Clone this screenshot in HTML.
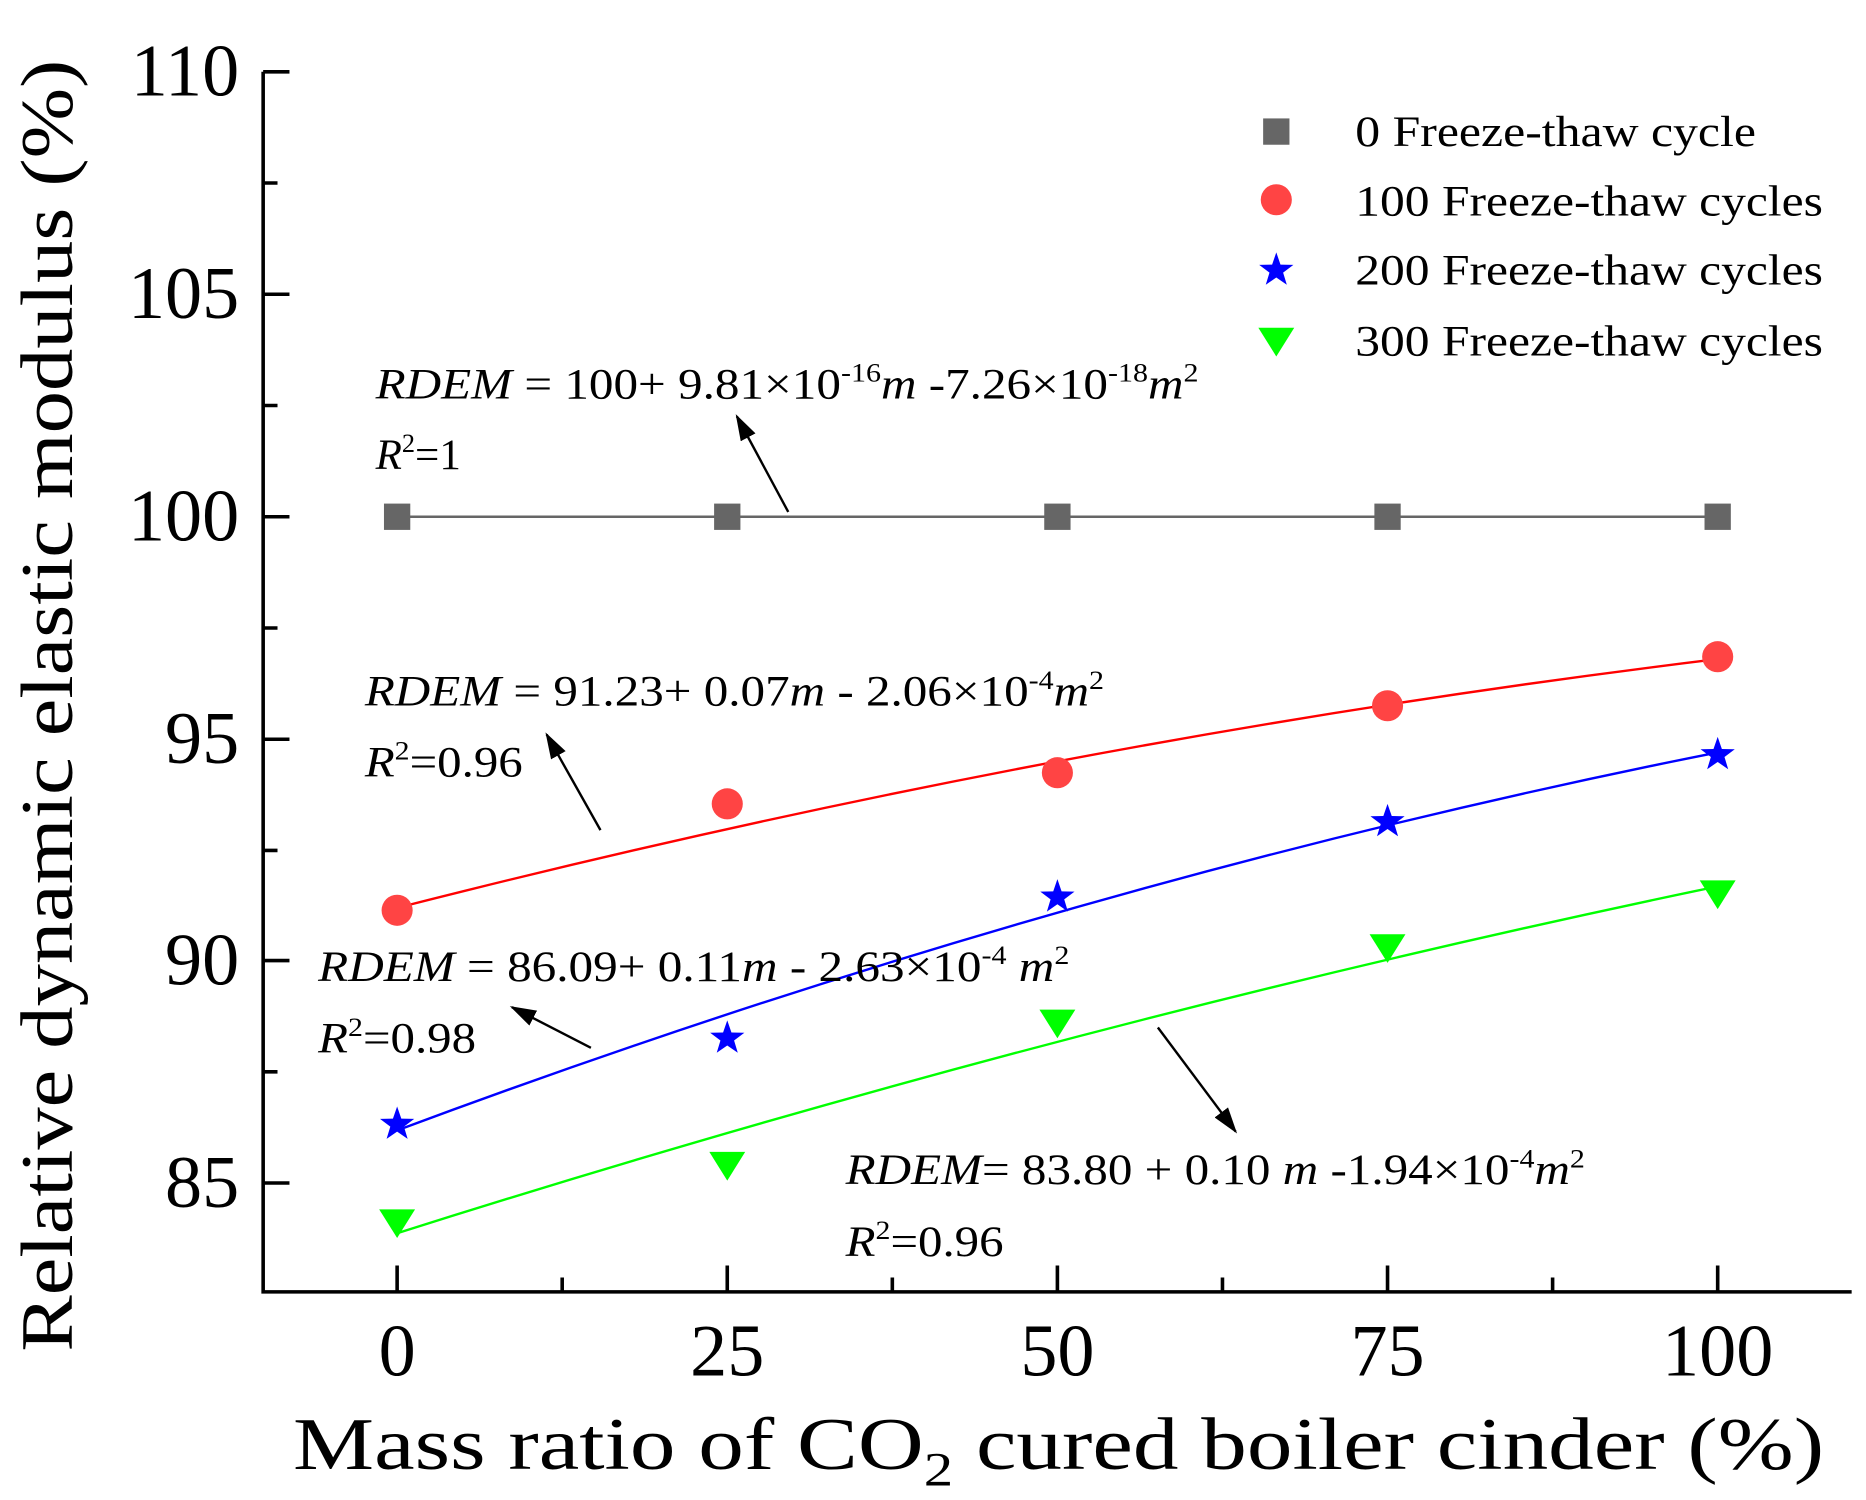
<!DOCTYPE html>
<html><head><meta charset="utf-8"><style>html,body{margin:0;padding:0;background:#fff}svg{display:block}</style></head>
<body>
<svg width="1866" height="1500" viewBox="0 0 1560 1254" preserveAspectRatio="none" xmlns="http://www.w3.org/2000/svg" font-family="'Liberation Serif', serif">
<defs><marker id="a2" markerWidth="22" markerHeight="14" refX="20" refY="7" orient="auto" markerUnits="userSpaceOnUse"><path d="M0,0 L22,7 L0,14 z" fill="#000"/></marker></defs>
<rect width="1560" height="1254" fill="#fff"/>
<g stroke="#000" stroke-width="3" fill="none">
<path d="M220,60 V1080 H1548"/>
<path d="M220,60 H242 M220,246 H242 M220,432 H242 M220,618 H242 M220,803 H242 M220,989 H242"/>
<path d="M220,153 H232 M220,339 H232 M220,525 H232 M220,711 H232 M220,896 H232"/>
<path d="M332,1080 V1058 M608,1080 V1058 M884,1080 V1058 M1160,1080 V1058 M1436,1080 V1058"/>
<path d="M470,1080 V1068 M746,1080 V1068 M1022,1080 V1068 M1298,1080 V1068"/>
</g>
<g font-size="62" text-anchor="end" fill="#000">
<text x="200" y="80">110</text><text x="200" y="266">105</text><text x="200" y="452">100</text>
<text x="200" y="638">95</text><text x="200" y="823">90</text><text x="200" y="1009">85</text>
</g>
<g font-size="62" text-anchor="middle" fill="#000">
<text x="332" y="1150">0</text><text x="608" y="1150">25</text><text x="884" y="1150">50</text><text x="1160" y="1150">75</text><text x="1436" y="1150">100</text>
</g>
<text x="885" y="1228" font-size="62" text-anchor="middle" textLength="1280" lengthAdjust="spacingAndGlyphs">Mass ratio of CO<tspan font-size="40" dy="14">2</tspan><tspan dy="-14"> cured boiler cinder (%)</tspan></text>
<text transform="translate(60,590) rotate(-90)" font-size="62" text-anchor="middle" textLength="1080" lengthAdjust="spacingAndGlyphs">Relative dynamic elastic modulus (%)</text>
<line x1="332" y1="432" x2="1436" y2="432" stroke="#666" stroke-width="2"/>
<path d="M332,759 Q884,618 1436,551" stroke="#f00" stroke-width="2" fill="none"/>
<path d="M332,945 Q884,739 1436,629" stroke="#00f" stroke-width="2" fill="none"/>
<path d="M332,1031 Q884,856 1436,741" stroke="#0f0" stroke-width="2" fill="none"/>
<g fill="#666"><rect x="321" y="421" width="22" height="22"/><rect x="597" y="421" width="22" height="22"/><rect x="873" y="421" width="22" height="22"/><rect x="1149" y="421" width="22" height="22"/><rect x="1425" y="421" width="22" height="22"/>
<rect x="1056" y="99" width="22" height="22"/></g>
<g fill="#f44"><circle cx="332" cy="761" r="13"/><circle cx="608" cy="672" r="13"/><circle cx="884" cy="646" r="13"/><circle cx="1160" cy="590" r="13"/><circle cx="1436" cy="549" r="13"/><circle cx="1067" cy="167" r="13"/></g>
<g fill="#00f">
<path d="M0,-15 L3.5,-4.8 L14.3,-4.6 L5.7,1.9 L8.8,12.1 L0,6 L-8.8,12.1 L-5.7,1.9 L-14.3,-4.6 L-3.5,-4.8 z" transform="translate(332,940)"/>
<path d="M0,-15 L3.5,-4.8 L14.3,-4.6 L5.7,1.9 L8.8,12.1 L0,6 L-8.8,12.1 L-5.7,1.9 L-14.3,-4.6 L-3.5,-4.8 z" transform="translate(608,868)"/>
<path d="M0,-15 L3.5,-4.8 L14.3,-4.6 L5.7,1.9 L8.8,12.1 L0,6 L-8.8,12.1 L-5.7,1.9 L-14.3,-4.6 L-3.5,-4.8 z" transform="translate(884,750)"/>
<path d="M0,-15 L3.5,-4.8 L14.3,-4.6 L5.7,1.9 L8.8,12.1 L0,6 L-8.8,12.1 L-5.7,1.9 L-14.3,-4.6 L-3.5,-4.8 z" transform="translate(1160,687)"/>
<path d="M0,-15 L3.5,-4.8 L14.3,-4.6 L5.7,1.9 L8.8,12.1 L0,6 L-8.8,12.1 L-5.7,1.9 L-14.3,-4.6 L-3.5,-4.8 z" transform="translate(1436,631)"/>
<path d="M0,-15 L3.5,-4.8 L14.3,-4.6 L5.7,1.9 L8.8,12.1 L0,6 L-8.8,12.1 L-5.7,1.9 L-14.3,-4.6 L-3.5,-4.8 z" transform="translate(1067,226)"/>
</g>
<g fill="#0f0">
<path d="M-15,-11 H15 L0,13 z" transform="translate(332,1022)"/>
<path d="M-15,-11 H15 L0,13 z" transform="translate(608,974)"/>
<path d="M-15,-11 H15 L0,13 z" transform="translate(884,855)"/>
<path d="M-15,-11 H15 L0,13 z" transform="translate(1160,792)"/>
<path d="M-15,-11 H15 L0,13 z" transform="translate(1436,747)"/>
<path d="M-15,-11 H15 L0,13 z" transform="translate(1067,285)"/>
</g>
<g font-size="36" fill="#000">
<text x="1133" y="122" textLength="335" lengthAdjust="spacingAndGlyphs">0 Freeze-thaw cycle</text>
<text x="1133" y="180" textLength="391" lengthAdjust="spacingAndGlyphs">100 Freeze-thaw cycles</text>
<text x="1133" y="238" textLength="391" lengthAdjust="spacingAndGlyphs">200 Freeze-thaw cycles</text>
<text x="1133" y="297" textLength="391" lengthAdjust="spacingAndGlyphs">300 Freeze-thaw cycles</text>
</g>
<g font-size="36" fill="#000">
<text x="314" y="333" textLength="688" lengthAdjust="spacingAndGlyphs"><tspan font-style="italic">RDEM</tspan> = 100+ 9.81×10<tspan font-size="22" dy="-14">-16</tspan><tspan dy="14" font-style="italic">m</tspan> -7.26×10<tspan font-size="22" dy="-14">-18</tspan><tspan dy="14" font-style="italic">m</tspan><tspan font-size="22" dy="-14">2</tspan></text>
<text x="314" y="392"><tspan font-style="italic">R</tspan><tspan font-size="22" dy="-14">2</tspan><tspan dy="14">=1</tspan></text>
<text x="305" y="590" textLength="618" lengthAdjust="spacingAndGlyphs"><tspan font-style="italic">RDEM</tspan> = 91.23+ 0.07<tspan font-style="italic">m</tspan> - 2.06×10<tspan font-size="22" dy="-14">-4</tspan><tspan dy="14" font-style="italic">m</tspan><tspan font-size="22" dy="-14">2</tspan></text>
<text x="305" y="649" textLength="132" lengthAdjust="spacingAndGlyphs"><tspan font-style="italic">R</tspan><tspan font-size="22" dy="-14">2</tspan><tspan dy="14">=0.96</tspan></text>
<text x="266" y="820" textLength="628" lengthAdjust="spacingAndGlyphs"><tspan font-style="italic">RDEM</tspan> = 86.09+ 0.11<tspan font-style="italic">m</tspan> - 2.63×10<tspan font-size="22" dy="-14">-4</tspan><tspan dy="14"> </tspan><tspan font-style="italic">m</tspan><tspan font-size="22" dy="-14">2</tspan></text>
<text x="266" y="880" textLength="132" lengthAdjust="spacingAndGlyphs"><tspan font-style="italic">R</tspan><tspan font-size="22" dy="-14">2</tspan><tspan dy="14">=0.98</tspan></text>
<text x="707" y="990" textLength="618" lengthAdjust="spacingAndGlyphs"><tspan font-style="italic">RDEM</tspan>= 83.80 + 0.10 <tspan font-style="italic">m</tspan> -1.94×10<tspan font-size="22" dy="-14">-4</tspan><tspan dy="14" font-style="italic">m</tspan><tspan font-size="22" dy="-14">2</tspan></text>
<text x="707" y="1050" textLength="132" lengthAdjust="spacingAndGlyphs"><tspan font-style="italic">R</tspan><tspan font-size="22" dy="-14">2</tspan><tspan dy="14">=0.96</tspan></text>
</g>
<g stroke="#000" stroke-width="2" fill="none">
<line x1="659" y1="428" x2="616" y2="348" marker-end="url(#a2)"/>
<line x1="502" y1="694" x2="457" y2="614" marker-end="url(#a2)"/>
<line x1="494" y1="876" x2="428" y2="842" marker-end="url(#a2)"/>
<line x1="968" y1="859" x2="1033" y2="946" marker-end="url(#a2)"/>
</g>
</svg>
</body></html>
